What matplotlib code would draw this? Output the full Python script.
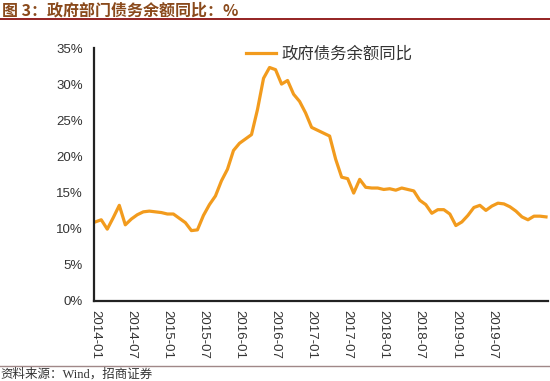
import matplotlib
matplotlib.use('Agg')
import matplotlib.pyplot as plt
import pandas as pd
from matplotlib.ticker import FuncFormatter, MultipleLocator

# =============================================================================
# 政府部门债务余额同比
# =============================================================================

TITLE = '图 3：政府部门债务余额同比：%'
SOURCE = '资料来源：Wind，招商证券'
LABEL = '政府债务余额同比'

# monthly, 2014-01 .. 2020-04, %
VALUES = [
    10.9, 11.2, 9.9, 11.5, 13.2, 10.5, 11.3, 11.9, 12.3, 12.4, 12.3, 12.2,
    12.0, 12.0, 11.4, 10.8, 9.7, 9.8, 11.8, 13.3, 14.5, 16.6, 18.2, 20.8,
    21.8, 22.4, 23.0, 26.5, 30.8, 32.3, 32.0, 30.0, 30.5, 28.6, 27.6, 26.0,
    24.0, 23.6, 23.2, 22.8, 19.6, 17.1, 16.9, 14.9, 16.8, 15.7, 15.6, 15.6,
    15.4, 15.5, 15.3, 15.6, 15.4, 15.2, 13.9, 13.3, 12.1, 12.6, 12.6, 12.0,
    10.4, 10.9, 11.8, 12.9, 13.2, 12.5, 13.1, 13.5, 13.4, 13.0, 12.4, 11.6,
    11.2, 11.7, 11.7, 11.6,
]

CJK = ['Noto Sans CJK SC']
LATIN = ['Liberation Sans', 'Noto Sans CJK SC']

dates = pd.date_range('2014-01-01', periods=len(VALUES), freq='MS')
series = pd.Series(VALUES, index=dates)
pos = list(range(len(series)))
tick_pos = [i for i, d in enumerate(dates) if d.month in (1, 7)]
tick_lab = [dates[i].strftime('%Y-%m') for i in tick_pos]
tick_pos, tick_lab = tick_pos[:12], tick_lab[:12]

fig = plt.figure(figsize=(5.5, 3.81), dpi=100)
ax = fig.add_axes([0.171, 0.211, 0.825, 0.663])

ax.plot(pos, series.values, color='#F29B1D', linewidth=2.3, label=LABEL)

ax.set_ylim(0, 35)
ax.set_xlim(-0.2, 75.3)
ax.yaxis.set_major_locator(MultipleLocator(5))
ax.yaxis.set_major_formatter(FuncFormatter(lambda v, _: '%d%%' % v))
ax.set_xticks(tick_pos)
ax.set_xticklabels(tick_lab, rotation=270)

for lab in ax.get_xticklabels() + ax.get_yticklabels():
    lab.set_family(LATIN)
    lab.set_fontsize(9.5)
    lab.set_color('#333333')
ax.tick_params(axis='both', length=0)
ax.tick_params(axis='y', pad=8)
ax.tick_params(axis='x', pad=7)

for side in ('top', 'right'):
    ax.spines[side].set_visible(False)
for side in ('left', 'bottom'):
    ax.spines[side].set_linewidth(1.6)
    ax.spines[side].set_color('#222222')

leg = ax.legend(loc='upper left', bbox_to_anchor=(0.335, 1.01),
                frameon=False, handlelength=1.85, handletextpad=0.3,
                borderpad=0, borderaxespad=0,
                prop={'family': CJK, 'size': 11.8})
for t in leg.get_texts():
    t.set_color('#333333')

fig.text(0.004, 0.973, TITLE, family=CJK, fontsize=11.5, fontweight='bold',
         color='#8A4A1C', ha='left', va='center')
fig.add_artist(plt.Line2D([0, 1], [0.95, 0.95], color='#8B1010',
                          linewidth=1.3, transform=fig.transFigure))
fig.add_artist(plt.Line2D([0, 1], [0.039, 0.039], color='#A08888',
                          linewidth=1.0, transform=fig.transFigure))
fig.text(0.0, 0.016, SOURCE, family=['Liberation Serif', 'Noto Sans CJK SC'],
         fontsize=9, color='#333333', ha='left', va='center')

fig.savefig('out.png', dpi=100)
